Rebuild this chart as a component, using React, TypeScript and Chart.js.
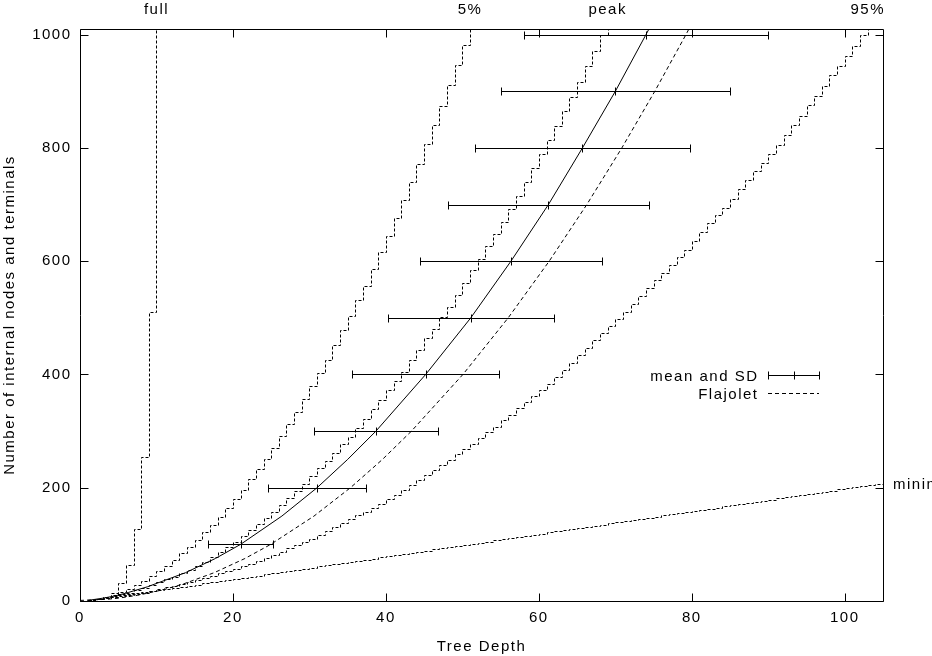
import { useEffect, useRef } from 'react';
import { Chart, registerables } from 'chart.js';

Chart.register(...registerables);

const FONT = '"Liberation Sans", Arial, Helvetica, sans-serif';
const LETTER_SPACING = '1.5px';

// axis ticks
const xTickValues = [0, 20, 40, 60, 80, 100];
const yTickValues = [0, 200, 400, 600, 800, 1000];

// stepped curves: tree size at each depth, depth starts at 1
const fullSizes = [1, 3, 7, 15, 31, 63, 127, 255, 511, 1023];

const fivePctSizes = [
  1, 3, 7, 11, 16, 22, 28, 35, 44, 53,
  62, 73, 84, 96, 108, 121, 134, 148, 164, 180,
  196, 215, 233, 251, 271, 291, 313, 333, 356, 379,
  403, 426, 452, 478, 504, 531, 557, 586, 616, 645,
  677, 708, 740, 772, 807, 840, 874, 911, 947, 982,
  1019,
];

const peakSizes = [
  1, 3, 5, 8, 12, 15, 19, 23, 28, 33,
  38, 43, 49, 55, 61, 68, 77, 86, 95, 105,
  115, 125, 136, 147, 158, 170, 182, 194, 206, 221,
  234, 247, 262, 277, 290, 306, 321, 339, 355, 372,
  389, 405, 425, 444, 464, 481, 502, 520, 540, 561,
  584, 604, 627, 648, 670, 692, 716, 740, 764, 789,
  814, 839, 865, 890, 916, 945, 971, 1000, 1027,
];

const ninetyFivePctSizes = [
  1, 3, 5, 7, 10, 12, 14, 16, 18, 21,
  24, 27, 30, 33, 37, 41, 45, 49, 53, 57,
  62, 66, 71, 76, 82, 87, 93, 98, 104, 110,
  117, 123, 130, 137, 144, 151, 158, 164, 172, 180,
  188, 196, 204, 213, 222, 231, 240, 249, 259, 268,
  278, 288, 298, 308, 319, 329, 340, 351, 362, 373,
  384, 396, 408, 420, 434, 447, 460, 473, 486, 498,
  510, 525, 538, 552, 566, 580, 593, 607, 620, 636,
  652, 667, 681, 694, 709, 727, 743, 759, 774, 790,
  806, 822, 841, 857, 875, 891, 909, 928, 944, 963,
  980, 1000, 1020,
];

const minimumSizes = [
  1, 3, 5, 7, 9, 11, 13, 15, 17, 19, 21, 23, 25, 27, 29,
  31, 33, 35, 37, 39, 41, 43, 45, 47, 49, 51, 53, 55, 57, 59,
  61, 63, 65, 67, 69, 71, 73, 75, 77, 79, 81, 83, 85, 87, 89,
  91, 93, 95, 97, 99, 101, 103, 105, 107, 109, 111, 113, 115, 117, 119,
  121, 123, 125, 127, 129, 131, 133, 135, 137, 139, 141, 143, 145, 147, 149,
  151, 153, 155, 157, 159, 161, 163, 165, 167, 169, 171, 173, 175, 177, 179,
  181, 183, 185, 187, 189, 191, 193, 195, 197, 199, 201, 203, 205, 207, 209,
];

// mean depth line
const meanSizes = [1, 3, 5, 7, 9, 15, 25, 50, 75, 100, 150, 200, 250, 300, 400, 500, 600, 700, 800, 900, 1000, 1010];
const meanDepths = [1, 2, 3, 3.8, 4.6, 6.3, 8.8, 13.8, 17.7, 21.0, 26.4, 31.0, 35.0, 38.7, 45.2, 51.1, 56.35, 61.25, 65.7, 70.0, 74.0, 74.4];

// error bars (mean +/- SD)
const errSizes = [100, 200, 300, 400, 500, 600, 700, 800, 900, 1000];
const errMeans = [21.0, 31.0, 38.7, 45.2, 51.1, 56.35, 61.25, 65.7, 70.0, 74.0];
const errSDs = [4.2, 6.4, 8.1, 9.6, 10.85, 11.95, 13.1, 14.0, 15.0, 15.9];

// Flajolet asymptote
const flajoletSizes = [1, 3, 5, 10, 20, 30, 50, 75, 100, 150, 200, 250, 300, 400, 500, 600, 700, 800, 900, 1000, 1010];
const flajoletDepths = [0, 3.54, 5.01, 7.52, 10.93, 13.5, 17.55, 21.56, 24.94, 30.6, 35.36, 39.55, 43.34, 50.07, 55.99, 61.35, 66.27, 70.85, 75.16, 79.23, 79.62];

// labels over the top of the plot
const curveLabels = ['full', '5%', 'peak', '95%'];
const curveLabelDepths = [10, 51, 69, 103];

const crisp = (v: number) => Math.round(v) + 0.5;

const gnuplotDecor = {
  id: 'gnuplotDecor',
  beforeDraw(chart: Chart) {
    (chart.ctx as any).letterSpacing = LETTER_SPACING;
  },
  beforeDatasetsDraw(chart: Chart) {
    // snap the staircase corners to the pixel grid so the steps stay sharp
    chart.data.datasets.forEach((ds: any, i: number) => {
      if (!ds.stepped) return;
      chart.getDatasetMeta(i).data.forEach((pt: any) => {
        pt.x = crisp(pt.x);
        pt.y = crisp(pt.y);
      });
    });
  },
  afterDatasetsDraw(chart: Chart) {
    const { ctx } = chart;
    const xs = chart.scales.x;
    const ys = chart.scales.y;
    ctx.save();
    ctx.strokeStyle = '#000';
    ctx.lineWidth = 1;
    ctx.setLineDash([]);
    ctx.beginPath();
    errSizes.forEach((s, i) => {
      const y = crisp(ys.getPixelForValue(s));
      const xl = crisp(xs.getPixelForValue(errMeans[i] - errSDs[i]));
      const xm = crisp(xs.getPixelForValue(errMeans[i]));
      const xr = crisp(xs.getPixelForValue(errMeans[i] + errSDs[i]));
      ctx.moveTo(xl, y);
      ctx.lineTo(xr, y);
      [xl, xm, xr].forEach(x => {
        ctx.moveTo(x, y - 4);
        ctx.lineTo(x, y + 4);
      });
    });
    ctx.stroke();
    ctx.restore();
  },
  afterDraw(chart: Chart) {
    const { ctx, chartArea } = chart;
    const xs = chart.scales.x;
    const ys = chart.scales.y;
    const left = crisp(chartArea.left);
    const right = crisp(chartArea.right);
    const top = crisp(chartArea.top);
    const bottom = crisp(chartArea.bottom);

    ctx.save();
    ctx.strokeStyle = '#000';
    ctx.lineWidth = 1;
    ctx.setLineDash([]);
    ctx.beginPath();
    ctx.rect(left, top, right - left, bottom - top);
    xTickValues.forEach(v => {
      const x = crisp(xs.getPixelForValue(v));
      ctx.moveTo(x, bottom);
      ctx.lineTo(x, bottom - 8);
      ctx.moveTo(x, top);
      ctx.lineTo(x, top + 8);
    });
    yTickValues.forEach(v => {
      const y = crisp(ys.getPixelForValue(v));
      ctx.moveTo(left, y);
      ctx.lineTo(left + 8, y);
      ctx.moveTo(right, y);
      ctx.lineTo(right - 8, y);
    });
    ctx.stroke();

    (ctx as any).letterSpacing = LETTER_SPACING;
    ctx.fillStyle = '#000';
    ctx.font = `15px ${FONT}`;
    ctx.textBaseline = 'alphabetic';

    ctx.textAlign = 'center';
    curveLabels.forEach((t, i) => {
      ctx.fillText(t, xs.getPixelForValue(curveLabelDepths[i]), 13.5);
    });

    ctx.textAlign = 'left';
    const minY = ys.getPixelForValue(minimumSizes[minimumSizes.length - 1]);
    ctx.fillText('minimum', chartArea.right + 10, minY + 6);

    // legend
    const textRight = 758.5;
    const sampleL = 768;
    const sampleR = 819;
    const row1 = 375.5;
    const row2 = 393.5;
    ctx.textAlign = 'right';
    ctx.fillText('mean and SD', textRight, row1 + 5);
    ctx.fillText('Flajolet', textRight, row2 + 5);

    ctx.beginPath();
    ctx.moveTo(sampleL + 0.5, row1);
    ctx.lineTo(sampleR + 0.5, row1);
    [sampleL, (sampleL + sampleR) / 2, sampleR].forEach(x => {
      ctx.moveTo(crisp(x), row1 - 4);
      ctx.lineTo(crisp(x), row1 + 4);
    });
    ctx.stroke();

    ctx.beginPath();
    ctx.setLineDash([4, 3]);
    ctx.moveTo(sampleL, row2);
    ctx.lineTo(sampleR, row2);
    ctx.stroke();
    ctx.restore();
  },
};

export default function App() {
  const canvasRef = useRef<HTMLCanvasElement>(null);
  const chartRef = useRef<Chart | null>(null);

  useEffect(() => {
    const canvas = canvasRef.current;
    if (!canvas) return;
    const ctx = canvas.getContext('2d');
    if (!ctx) return;

    const byDepth = (sizes: number[]) => sizes.map((s, i) => ({ x: i + 1, y: s }));
    const steppedStyle = {
      borderColor: '#000',
      borderWidth: 1,
      borderDash: [3, 2],
      pointRadius: 0,
      stepped: 'before' as const,
      fill: false,
    };
    const font = { family: FONT, size: 15 };

    chartRef.current = new Chart(ctx, {
      type: 'line',
      data: {
        datasets: [
          { label: 'full', data: byDepth(fullSizes), ...steppedStyle },
          { label: '5%', data: byDepth(fivePctSizes), ...steppedStyle },
          { label: 'peak', data: byDepth(peakSizes), ...steppedStyle },
          { label: '95%', data: byDepth(ninetyFivePctSizes), ...steppedStyle },
          { label: 'minimum', data: byDepth(minimumSizes), ...steppedStyle },
          {
            label: 'mean and SD',
            data: meanDepths.map((d, i) => ({ x: d, y: meanSizes[i] })),
            borderColor: '#000',
            borderWidth: 1,
            pointRadius: 0,
            tension: 0,
            fill: false,
          },
          {
            label: 'Flajolet',
            data: flajoletDepths.map((d, i) => ({ x: d, y: flajoletSizes[i] })),
            borderColor: '#000',
            borderWidth: 1,
            borderDash: [4, 3],
            pointRadius: 0,
            tension: 0,
            fill: false,
          },
        ],
      },
      options: {
        animation: false,
        responsive: true,
        maintainAspectRatio: false,
        events: [],
        layout: { padding: { top: 29, right: 49, left: 0, bottom: 0 } },
        plugins: {
          legend: { display: false },
          tooltip: { enabled: false },
        },
        scales: {
          x: {
            type: 'linear',
            min: 0,
            max: 105,
            afterBuildTicks: (scale: any) => {
              scale.ticks = xTickValues.map(v => ({ value: v }));
            },
            afterFit: (scale: any) => {
              scale.height = 55;
            },
            grid: { display: false, drawTicks: false },
            border: { display: false },
            ticks: { color: '#000', font, padding: 7.5, maxRotation: 0, callback: (v: any) => String(v) },
            title: { display: true, text: 'Tree Depth', color: '#000', font, padding: { top: 0, bottom: 0.5 } },
          },
          y: {
            type: 'linear',
            min: 0,
            max: 1010,
            afterBuildTicks: (scale: any) => {
              scale.ticks = yTickValues.map(v => ({ value: v }));
            },
            afterFit: (scale: any) => {
              scale.width = 80;
            },
            grid: { display: false, drawTicks: false },
            border: { display: false },
            ticks: { color: '#000', font, padding: 8.5, callback: (v: any) => String(v) },
            title: {
              display: true,
              text: 'Number of internal nodes and terminals',
              color: '#000',
              font,
              padding: { top: 1, bottom: 0 },
            },
          },
        },
      },
      plugins: [gnuplotDecor],
    });

    return () => {
      if (chartRef.current) {
        chartRef.current.destroy();
        chartRef.current = null;
      }
    };
  }, []);

  return (
    <div style={{ position: 'absolute', left: 0, top: 0, width: 932, height: 656, background: '#fff' }}>
      <canvas ref={canvasRef} />
    </div>
  );
}
